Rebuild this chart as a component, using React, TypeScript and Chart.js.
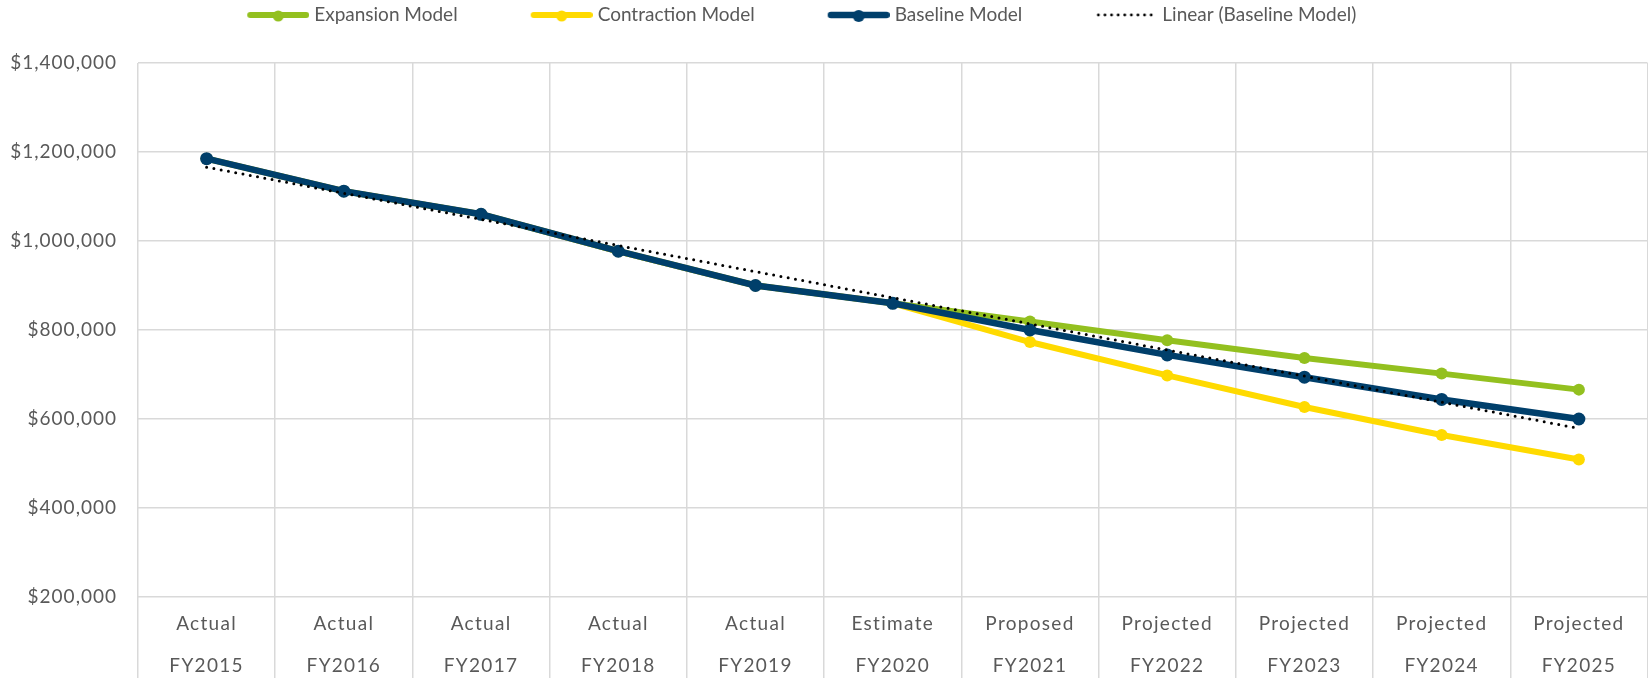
import React, { useEffect, useRef } from 'react';
import { Chart, registerables } from 'chart.js';

Chart.register(...registerables);

// ---- data ----
const categories: string[][] = [
  ['Actual', 'FY2015'],
  ['Actual', 'FY2016'],
  ['Actual', 'FY2017'],
  ['Actual', 'FY2018'],
  ['Actual', 'FY2019'],
  ['Estimate', 'FY2020'],
  ['Proposed', 'FY2021'],
  ['Projected', 'FY2022'],
  ['Projected', 'FY2023'],
  ['Projected', 'FY2024'],
  ['Projected', 'FY2025'],
];

const expansionModel = [1185000, 1112000, 1060000, 977000, 900000, 860000, 819000, 777000, 737000, 702000, 666000];
const contractionModel = [1185000, 1112000, 1060000, 977000, 900000, 860000, 773000, 698000, 627000, 564000, 509000];
const baselineModel = [1185000, 1112000, 1060000, 977000, 900000, 860000, 800000, 744000, 694000, 644000, 600000];
// trend line end points (straight line between them)
const linearBaseline: (number | null)[] = [1166000, null, null, null, null, null, null, null, null, null, 579000];

const seriesNames = ['Expansion Model', 'Contraction Model', 'Baseline Model', 'Linear (Baseline Model)'];

const yMin = 0;
const yMax = 1400000;
const yStep = 200000;
const xAxisAt = 200000;

// ---- styles ----
const GREEN = '#93C01F';
const YELLOW = '#FFDA00';
const NAVY = '#003F6B';
const GRID = '#D9D9D9';
const TEXT = '#595959';
const FONT = 'Lato, "Open Sans", sans-serif';

const CANVAS_W = 1772;
const CANVAS_H = 719;
const OFFSET_X = -118;
const Y_AXIS_W = 256;
const LEGEND_H = 63;
const BOX_W = 125;
const IMG_W = BOX_W + 9;

function lineMarker(color: string, lw: number, r: number): HTMLCanvasElement {
  const c = document.createElement('canvas');
  c.width = IMG_W;
  c.height = 20;
  const ctx = c.getContext('2d')!;
  ctx.strokeStyle = color;
  ctx.lineWidth = lw;
  ctx.lineCap = 'round';
  ctx.beginPath();
  ctx.moveTo(IMG_W - 62 + lw / 2, 10);
  ctx.lineTo(IMG_W - lw / 2, 10);
  ctx.stroke();
  ctx.fillStyle = color;
  ctx.beginPath();
  ctx.arc(IMG_W - 31, 11, r, 0, Math.PI * 2);
  ctx.fill();
  return c;
}

function dotMarker(): HTMLCanvasElement {
  const c = document.createElement('canvas');
  c.width = IMG_W;
  c.height = 20;
  const ctx = c.getContext('2d')!;
  ctx.fillStyle = '#000';
  for (let x = IMG_W - 59; x <= IMG_W - 6; x += 6.6) {
    ctx.beginPath();
    ctx.arc(x, 10, 1.4, 0, Math.PI * 2);
    ctx.fill();
  }
  return c;
}

export default function App() {
  const ref = useRef<HTMLCanvasElement | null>(null);

  useEffect(() => {
    if (!ref.current) return;
    const markers = [lineMarker(GREEN, 6, 5.5), lineMarker(YELLOW, 6, 5.5), lineMarker(NAVY, 6.5, 6), dotMarker()];

    const legendHeightPlugin = {
      id: 'legendHeight',
      beforeLayout(chart: any) {
        const lg = chart.legend;
        if (lg && !lg.__patched) {
          const orig = lg.fit;
          lg.fit = function () {
            orig.call(this);
            this.height = LEGEND_H;
          };
          lg.__patched = true;
        }
      },
    };

    const trackingPlugin = {
      id: 'axisTracking',
      beforeDraw(chart: any) {
        const spacing: [string, string][] = [
          ['x', '1.3px'],
          ['y', '1px'],
        ];
        for (const [id, sp] of spacing) {
          const s = chart.scales[id];
          if (s && !s.__tracked) {
            const orig = s.drawLabels;
            s.drawLabels = function (area: any) {
              const ctx = this.ctx;
              const prev = ctx.letterSpacing;
              ctx.letterSpacing = sp;
              orig.call(this, area);
              ctx.letterSpacing = prev || '0px';
            };
            s.__tracked = true;
          }
        }
      },
    };

    const chart = new Chart(ref.current, {
      type: 'line',
      data: {
        labels: categories,
        datasets: [
          {
            label: seriesNames[0],
            data: expansionModel,
            borderColor: GREEN,
            backgroundColor: GREEN,
            borderWidth: 6,
            pointRadius: 6,
            pointBorderWidth: 0,
            pointBackgroundColor: GREEN,
            tension: 0,
            order: 3,
          },
          {
            label: seriesNames[1],
            data: contractionModel,
            borderColor: YELLOW,
            backgroundColor: YELLOW,
            borderWidth: 6,
            pointRadius: 6,
            pointBorderWidth: 0,
            pointBackgroundColor: YELLOW,
            tension: 0,
            order: 2,
          },
          {
            label: seriesNames[2],
            data: baselineModel,
            borderColor: NAVY,
            backgroundColor: NAVY,
            borderWidth: 6.5,
            pointRadius: 6.5,
            pointBorderWidth: 0,
            pointBackgroundColor: NAVY,
            tension: 0,
            order: 1,
          },
          {
            label: seriesNames[3],
            data: linearBaseline,
            borderColor: '#000000',
            borderWidth: 3,
            borderDash: [0, 7.4],
            borderCapStyle: 'round',
            pointRadius: 0,
            spanGaps: true,
            tension: 0,
            order: 0,
          },
        ],
      },
      options: {
        responsive: false,
        animation: false,
        layout: { padding: 0 },
        plugins: {
          tooltip: { enabled: false },
          legend: {
            position: 'top',
            align: 'center',
            labels: {
              usePointStyle: true,
              pointStyleWidth: BOX_W,
              padding: 5.5,
              color: TEXT,
              font: { family: FONT, size: 19 },
              generateLabels: () =>
                seriesNames.map((name, i) => ({
                  text: name,
                  pointStyle: markers[i] as any,
                  fillStyle: 'rgba(0,0,0,0)',
                  strokeStyle: 'rgba(0,0,0,0)',
                  lineWidth: 0,
                  hidden: false,
                  datasetIndex: i,
                  fontColor: TEXT,
                })),
            },
          },
        },
        scales: {
          x: {
            type: 'category',
            position: { y: xAxisAt },
            offset: true,
            grid: { offset: true, color: GRID, lineWidth: 1.5, drawTicks: false },
            border: { display: false },
            ticks: {
              autoSkip: false,
              maxRotation: 0,
              minRotation: 0,
              padding: 5,
              color: TEXT,
              font: { family: FONT, size: 19, lineHeight: 2.25 },
            },
          },
          y: {
            min: yMin,
            max: yMax,
            grid: { color: GRID, lineWidth: 1.5, drawTicks: false },
            border: { display: false },
            ticks: {
              stepSize: yStep,
              padding: 21,
              color: TEXT,
              font: { family: FONT, size: 19, lineHeight: '24px' },
              callback: (v: any) => (Number(v) === 0 ? '' : '$' + Number(v).toLocaleString('en-US')),
            },
            afterFit: (s: any) => {
              s.width = Y_AXIS_W;
            },
          },
        },
      },
      plugins: [legendHeightPlugin, trackingPlugin],
    } as any);

    return () => chart.destroy();
  }, []);

  return (
    <div
      style={{
        position: 'fixed',
        left: 0,
        top: 0,
        width: 1648,
        height: 678,
        overflow: 'hidden',
        background: '#ffffff',
      }}
    >
      <canvas
        ref={ref}
        width={CANVAS_W}
        height={CANVAS_H}
        style={{ position: 'absolute', left: OFFSET_X, top: 0, width: CANVAS_W, height: CANVAS_H }}
      />
    </div>
  );
}
